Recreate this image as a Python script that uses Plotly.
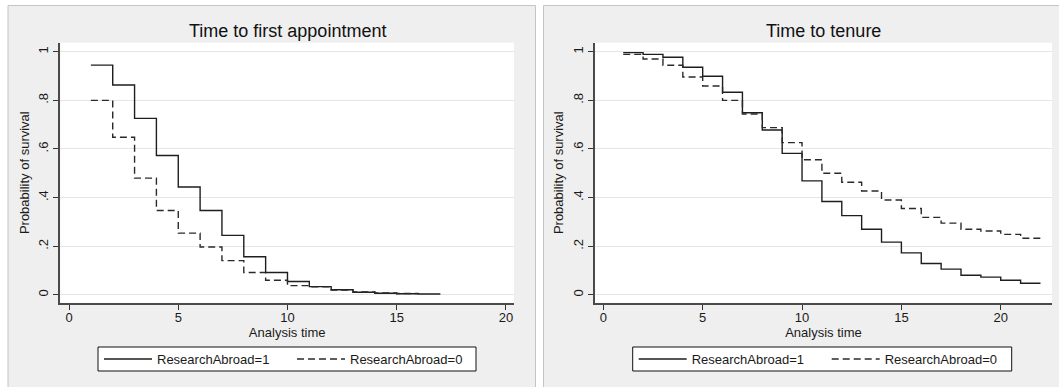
import plotly.graph_objects as go

# Kaplan-Meier survival estimates by interval start time
appt_time = [1, 2, 3, 4, 5, 6, 7, 8, 9, 10, 11, 12, 13, 14, 15, 16]
appt_abroad1 = [0.945, 0.863, 0.726, 0.573, 0.444, 0.347, 0.245, 0.157,
                0.092, 0.055, 0.034, 0.021, 0.011, 0.007, 0.005, 0.004]
appt_abroad1_end = 17
appt_time0 = [1, 2, 3, 4, 5, 6, 7, 8, 9, 10, 11, 12, 13, 14, 15]
appt_abroad0 = [0.800, 0.648, 0.480, 0.347, 0.254, 0.197, 0.141, 0.092,
                0.060, 0.038, 0.033, 0.020, 0.012, 0.008, 0.006]
appt_abroad0_end = 16

ten_time = list(range(1, 22))
ten_abroad1 = [0.996, 0.989, 0.977, 0.936, 0.899, 0.833, 0.749, 0.678, 0.582,
               0.469, 0.384, 0.326, 0.270, 0.217, 0.173, 0.129, 0.106, 0.081,
               0.073, 0.060, 0.048]
ten_abroad0 = [0.989, 0.970, 0.944, 0.896, 0.859, 0.800, 0.744, 0.688, 0.626,
               0.556, 0.500, 0.463, 0.427, 0.390, 0.355, 0.319, 0.295, 0.270,
               0.263, 0.249, 0.233]
ten_end = 22

titles = ["Time to first appointment", "Time to tenure"]
series_names = ["ResearchAbroad=1", "ResearchAbroad=0"]
y_ticks = [0, 0.2, 0.4, 0.6, 0.8, 1]
y_tick_text = ["0", ".2", ".4", ".6", ".8", "1"]
x_ticks = [0, 5, 10, 15, 20]

W, H = 1059, 387


def step(times, surv, end):
    return list(times) + [end], list(surv) + [surv[-1]]


def px(x):
    return x / W


def py(y):
    return 1 - y / H


FONT = "Liberation Sans, Arial, sans-serif"
SOLID = dict(color="#1e1e1e", width=1.4)
DASHED = dict(color="#2a2a2a", width=1.4, dash="7px,4px")

fig = go.Figure()

x1, y1 = step(appt_time, appt_abroad1, appt_abroad1_end)
x0, y0 = step(appt_time0, appt_abroad0, appt_abroad0_end)
fig.add_trace(go.Scatter(x=x1, y=y1, mode="lines", line=SOLID, line_shape="hv",
                         name=series_names[0], xaxis="x", yaxis="y", legend="legend"))
fig.add_trace(go.Scatter(x=x0, y=y0, mode="lines", line=DASHED, line_shape="hv",
                         name=series_names[1], xaxis="x", yaxis="y", legend="legend"))

x1, y1 = step(ten_time, ten_abroad1, ten_end)
x0, y0 = step(ten_time, ten_abroad0, ten_end)
fig.add_trace(go.Scatter(x=x1, y=y1, mode="lines", line=SOLID, line_shape="hv",
                         name=series_names[0], xaxis="x2", yaxis="y2", legend="legend2"))
fig.add_trace(go.Scatter(x=x0, y=y0, mode="lines", line=DASHED, line_shape="hv",
                         name=series_names[1], xaxis="x2", yaxis="y2", legend="legend2"))

# plot regions in pixels: (left, right), shared top/bottom
plot_top, plot_bottom = 42.7, 302.7
regions = [(60.3, 514.0), (595.0, 1052.0)]
x_ranges = [[-0.4, 20.37], [-0.42, 22.58]]
legend_boxes = [(98, 476), (632.7, 1011.7)]
legend_top, legend_bottom = 347, 371

axis_common = dict(
    showline=True, linecolor="#4a4a4a", linewidth=2, mirror=False,
    ticks="outside", ticklen=5, tickwidth=1, tickcolor="#333",
    tickfont=dict(family=FONT, size=13, color="#1a1a1a"),
    zeroline=False,
)

for i, ((l, r), xr) in enumerate(zip(regions, x_ranges)):
    sfx = "" if i == 0 else str(i + 1)
    fig.layout["xaxis" + sfx] = dict(
        axis_common, domain=[px(l), px(r)], range=xr, tickvals=x_ticks,
        showgrid=False, anchor="y" + sfx, ticklabelstandoff=-3,
        title=dict(text="Analysis time", font=dict(family=FONT, size=13, color="#1a1a1a"),
                   standoff=0),
    )
    fig.layout["yaxis" + sfx] = dict(
        axis_common, domain=[py(plot_bottom), py(plot_top)], range=[-0.032, 1.037],
        tickvals=y_ticks, ticktext=y_tick_text, tickangle=-90,
        showgrid=True, gridcolor="#e6e6e6", gridwidth=1, anchor="x" + sfx,
        title=dict(text="Probability of survival", font=dict(family=FONT, size=13, color="#1a1a1a"),
                   standoff=4),
    )

shapes = []
# grey graph panels
panels = [(8, 535.5), (543.5, 1062)]
for (l, r) in panels:
    shapes.append(dict(type="rect", xref="paper", yref="paper", layer="below",
                       x0=px(l), x1=px(r), y0=py(392), y1=py(5.5),
                       fillcolor="#efefef", line=dict(color="#c4c4c4", width=1)))
# white plot areas
for (l, r) in regions:
    shapes.append(dict(type="rect", xref="paper", yref="paper", layer="below",
                       x0=px(l), x1=px(r), y0=py(plot_bottom), y1=py(plot_top),
                       fillcolor="white", line=dict(width=0)))
# legend frames
for (l, r) in legend_boxes:
    shapes.append(dict(type="rect", xref="paper", yref="paper", layer="below",
                       x0=px(l), x1=px(r), y0=py(legend_bottom), y1=py(legend_top),
                       fillcolor="white", line=dict(color="#111", width=1)))

annotations = []
for (l, r), t in zip(regions, titles):
    annotations.append(dict(text=t, xref="paper", yref="paper", x=px((l + r) / 2), y=py(31),
                            xanchor="center", yanchor="middle", showarrow=False,
                            font=dict(family=FONT, size=18, color="#111")))

legend_common = dict(
    orientation="h", bgcolor="rgba(0,0,0,0)", borderwidth=0,
    font=dict(family=FONT, size=13, color="#1a1a1a"), itemwidth=48,
    xanchor="left", yanchor="top", itemclick=False, itemdoubleclick=False,
    entrywidth=130, entrywidthmode="pixels",
)

fig.update_layout(
    width=W, height=H, margin=dict(l=0, r=0, t=0, b=0),
    paper_bgcolor="white", plot_bgcolor="rgba(0,0,0,0)",
    shapes=shapes, annotations=annotations, showlegend=True,
    legend=dict(legend_common, x=px(legend_boxes[0][0] + 1), y=py(344)),
    legend2=dict(legend_common, x=px(legend_boxes[1][0] + 1), y=py(344)),
)

fig.write_html("out.html")
